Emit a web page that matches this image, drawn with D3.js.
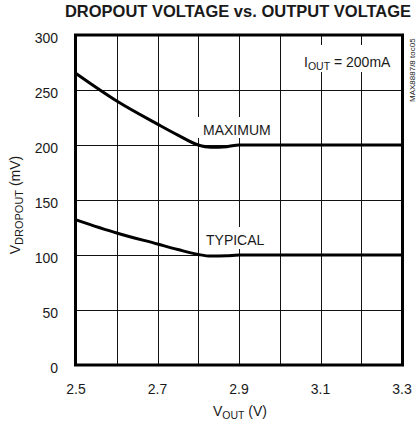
<!DOCTYPE html>
<html>
<head>
<meta charset="utf-8">
<script src="https://cdn.jsdelivr.net/npm/d3@7"></script>
<style>
  body { margin: 0; background: #fff; }
  text { font-family: "Liberation Sans", Arial, sans-serif; fill: #1a1a1a; }
</style>
</head>
<body>
<script>
// Chart values
const vout = [2.5, 2.6, 2.7, 2.75, 2.8, 2.83, 2.87, 2.9, 3.0, 3.3];
const maximum = [265, 240, 219, 209, 200, 198, 198.5, 200, 200, 200];
const typical = [132, 120, 110, 105, 100.5, 99, 99.3, 100, 100, 100];
const xTicks = [2.5, 2.6, 2.7, 2.8, 2.9, 3.0, 3.1, 3.2, 3.3];
const xLabels = [2.5, 2.7, 2.9, 3.1, 3.3];
const yTicks = [0, 50, 100, 150, 200, 250, 300];

const width = 416;
const height = 428;
const plotLeft = 76, plotRight = 402, plotTop = 35, plotBottom = 365;

const svg = d3.select('body').append('svg')
  .attr('width', width)
  .attr('height', height);

const x = d3.scaleLinear().domain([2.5, 3.3]).range([plotLeft, plotRight]);
const y = d3.scaleLinear().domain([0, 300]).range([plotBottom, plotTop]);

// Title
svg.append('text')
  .attr('x', 238)
  .attr('y', 17)
  .attr('text-anchor', 'middle')
  .attr('font-size', 16.5)
  .attr('font-weight', 'bold')
  .text('DROPOUT VOLTAGE vs. OUTPUT VOLTAGE');

// Grid
const grid = svg.append('g').attr('stroke', '#111').attr('stroke-width', 1);
grid.selectAll('.vx')
  .data(xTicks.slice(1, -1))
  .join('line')
  .attr('x1', d => Math.round(x(d)) + 0.5)
  .attr('x2', d => Math.round(x(d)) + 0.5)
  .attr('y1', plotTop)
  .attr('y2', plotBottom);
grid.selectAll('.hy')
  .data(yTicks.slice(1, -1))
  .join('line')
  .attr('y1', d => Math.round(y(d)) + 0.5)
  .attr('y2', d => Math.round(y(d)) + 0.5)
  .attr('x1', plotLeft)
  .attr('x2', plotRight);

// Labels with white boxes (they break the grid)
function boxLabel(bx, by, bw, bh) {
  svg.append('rect')
    .attr('x', bx).attr('y', by)
    .attr('width', bw).attr('height', bh)
    .attr('fill', '#fff');
}
boxLabel(298, 45, 100, 27);
const iout = svg.append('text')
  .attr('x', 304)
  .attr('y', 67)
  .attr('font-size', 14);
iout.append('tspan').text('I');
iout.append('tspan').attr('font-size', 10.5).attr('dy', 3).text('OUT');
iout.append('tspan').attr('dy', -3).text(' = 200mA');

boxLabel(196, 117, 81, 21);
svg.append('text')
  .attr('x', 203)
  .attr('y', 135)
  .attr('font-size', 14)
  .text('MAXIMUM');

boxLabel(201, 227, 72, 22);
svg.append('text')
  .attr('x', 206)
  .attr('y', 245)
  .attr('font-size', 14)
  .text('TYPICAL');

// Curves
const line = d3.line()
  .curve(d3.curveMonotoneX)
  .x(d => x(d[0]))
  .y(d => y(d[1]));

[maximum, typical].forEach(series => {
  svg.append('path')
    .datum(vout.map((v, i) => [v, series[i]]))
    .attr('fill', 'none')
    .attr('stroke', '#000')
    .attr('stroke-width', 3)
    .attr('d', line);
});

// Frame
svg.append('rect')
  .attr('x', plotLeft - 0.5)
  .attr('y', plotTop)
  .attr('width', plotRight - plotLeft + 1)
  .attr('height', plotBottom - plotTop)
  .attr('fill', 'none')
  .attr('stroke', '#000')
  .attr('stroke-width', 3);

// Axes labels
svg.append('g')
  .selectAll('text')
  .data(yTicks)
  .join('text')
  .attr('x', 58)
  .attr('y', d => y(d) + 8)
  .attr('text-anchor', 'end')
  .attr('font-size', 14)
  .text(d => d);

svg.append('g')
  .selectAll('text')
  .data(xLabels)
  .join('text')
  .attr('x', d => x(d))
  .attr('y', 394)
  .attr('text-anchor', 'middle')
  .attr('font-size', 14)
  .text(d => d3.format('.1f')(d));

// Axis titles
const xt = svg.append('text')
  .attr('x', 240)
  .attr('y', 416)
  .attr('text-anchor', 'middle')
  .attr('font-size', 14);
xt.append('tspan').text('V');
xt.append('tspan').attr('font-size', 10.5).attr('dy', 3).text('OUT');
xt.append('tspan').attr('dy', -3).text(' (V)');

const yt = svg.append('text')
  .attr('transform', 'translate(20, 205) rotate(-90)')
  .attr('text-anchor', 'middle')
  .attr('font-size', 14);
yt.append('tspan').text('V');
yt.append('tspan').attr('font-size', 11).attr('dy', 3).text('DROPOUT');
yt.append('tspan').attr('dy', -3).text(' (mV)');

// Side code
svg.append('text')
  .attr('transform', 'translate(415, 102) rotate(-90)')
  .attr('font-size', 8)
  .attr('fill', '#333')
  .text('MAX8887/8 toc05');
</script>
</body>
</html>
